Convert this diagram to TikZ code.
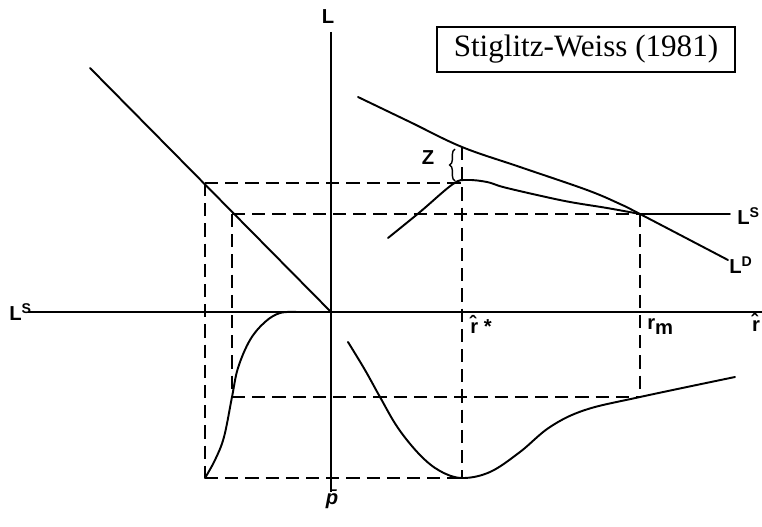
\documentclass[tikz,border=0pt]{standalone}
\usepackage{fontspec}
\setmainfont{Liberation Serif}
\setsansfont{Liberation Sans}
\usetikzlibrary{decorations.pathreplacing}
\newcommand{\hatr}{r^^^^0302}
\newcommand{\barp}{{\itshape p^^^^0304}}

\begin{document}
\begin{tikzpicture}[
  x=0.02cm, y=-0.02cm,
  axis/.style={line width=1.1pt},
  curve/.style={line width=1.1pt, line join=round, line cap=round},
  guide/.style={line width=0.9pt, dash pattern=on 7.5pt off 4pt},
  lbl/.style={font=\sffamily\bfseries\fontsize{11.5}{13}\selectfont, inner sep=0pt},
  titlebox/.style={draw, line width=0.7pt, minimum width=5.96cm,
    minimum height=0.9cm, font=\fontsize{17.7}{20}\selectfont}
]
\useasboundingbox (0,0) rectangle (762,527);

% axes
\coordinate (O) at (331,312);
\coordinate (Ltop) at (331,32);
\coordinate (Lbot) at (331,492);
\coordinate (Lleft) at (28,312);
\coordinate (Lright) at (762,312);
\draw[axis] (Ltop) -- (Lbot);
\draw[axis] (Lleft) -- (Lright);

% key points
\coordinate (A1) at (205,183);
\coordinate (A2) at (232,214);
\coordinate (Dtop) at (462,147);
\coordinate (Hpk) at (462,183);
\coordinate (E) at (640,214);
\coordinate (B1) at (205,478);
\coordinate (Umin) at (462,478);
\coordinate (B2) at (232,397);
\coordinate (Um) at (640,397);
\coordinate (Dstart) at (90,68);

% dashed guides
\draw[guide] (A1) -- (Hpk);
\draw[guide] (A2) -- (E);
\draw[guide] (A1) -- (B1);
\draw[guide] (B1) -- (Umin);
\draw[guide] (Dtop) -- (Umin);
\draw[guide] (A2) -- (B2);
\draw[guide] (B2) -- (Um);
\draw[guide] (E) -- (Um);

% curves
\draw[curve] (Dstart) -- (O);
\draw[curve] plot[smooth, tension=0.6] coordinates
  {(358,97) (410,122) (Dtop) (520,167) (587,190) (620,204) (E) (728,260)};
\draw[curve] plot[smooth, tension=0.6] coordinates
  {(388,238) (420,212) (453,184) (467,180) (487,182) (503,187) (537,195)
   (570,202) (607,208) (E)};
\draw[curve] (E) -- (730,214);
\draw[curve] plot[smooth, tension=0.6] coordinates
  {(B1) (215,460) (224,437) (B2) (238,368) (250,340) (265,322) (280,313) (297,312)};
\draw[curve] plot[smooth, tension=0.6] coordinates
  {(348,342) (365,370) (380,397) (398,428) (420,455) (440,471) (Umin) (490,472)
   (520,452) (550,427) (585,410) (Um) (735,377)};

% gap Z
\draw[line width=0.8pt, decorate, decoration={brace, amplitude=3pt}]
  (455,181) -- (455,149);
\node[lbl] (Zlab) at (428,158) {Z};

% labels
\node[lbl] (Llab) at (328,17) {L};
\node[lbl, anchor=base west] (LSleft) at (9,321) {L\textsuperscript{S}};
\node[lbl, anchor=north] (pbar) at (332,490) {\barp};
\node[lbl, anchor=north west] (rstar) at (470,315) {\hatr\ *};
\node[lbl, anchor=north west] (rm) at (647,318) {r\raisebox{-0.25em}{m}};
\node[lbl, anchor=north] (rhat) at (756,313) {\hatr};
\node[lbl, anchor=west] (LSlab) at (737,216) {L\textsuperscript{S}};
\node[lbl, anchor=west] (LDlab) at (729,265) {L\textsuperscript{D}};

\node[titlebox] (title) at (586,49.5) {Stiglitz-Weiss (1981)};
\end{tikzpicture}
\end{document}
